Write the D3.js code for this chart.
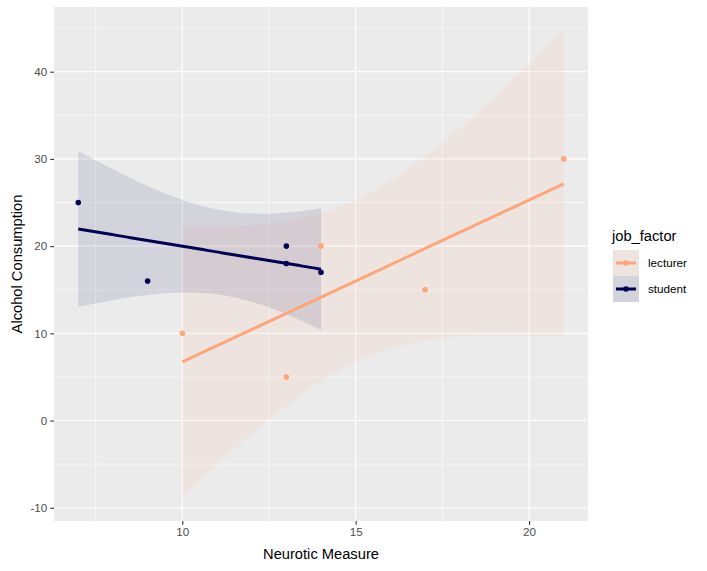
<!DOCTYPE html>
<html>
<head>
<meta charset="utf-8">
<script src="https://cdn.jsdelivr.net/npm/d3@7"></script>
<style>
  body { margin: 0; background: #fff; }
  text { font-family: "Liberation Sans", Arial, sans-serif; }
</style>
</head>
<body>
<svg id="chart" width="707" height="571"></svg>
<script>
// data
var groups = ["lecturer", "student"];
var lecturerX = [10, 13, 14, 17, 21];
var lecturerY = [10, 5, 20, 15, 30];
var studentX = [7, 9, 13, 13, 14];
var studentY = [25, 16, 20, 18, 17];
var groupColors = ["#FFA57A", "#000055"];
var xTicks = [10, 15, 20];
var yTicks = [-10, 0, 10, 20, 30, 40];

var svg = d3.select("#chart");
var margin = {top: 7, right: 119, bottom: 50, left: 54};
var width = 707 - margin.left - margin.right;
var height = 571 - margin.top - margin.bottom;

var x = d3.scaleLinear().domain([6.3, 21.7]).range([0, width]);
var y = d3.scaleLinear().domain([-11.52, 47.42]).range([height, 0]);

var g = svg.append("g").attr("transform", "translate(" + margin.left + "," + margin.top + ")");

// panel + grid
g.append("rect").attr("width", width).attr("height", height).attr("fill", "#EBEBEB");
var minorX = [7.5, 12.5, 17.5];
var minorY = [-5, 5, 15, 25, 35, 45];
g.selectAll(".mx").data(minorX).enter().append("line")
  .attr("x1", d => x(d)).attr("x2", d => x(d)).attr("y1", 0).attr("y2", height)
  .attr("stroke", "#fff").attr("stroke-width", 0.55);
g.selectAll(".my").data(minorY).enter().append("line")
  .attr("y1", d => y(d)).attr("y2", d => y(d)).attr("x1", 0).attr("x2", width)
  .attr("stroke", "#fff").attr("stroke-width", 0.55);
g.selectAll(".gx").data(xTicks).enter().append("line")
  .attr("x1", d => x(d)).attr("x2", d => x(d)).attr("y1", 0).attr("y2", height)
  .attr("stroke", "#fff").attr("stroke-width", 1.1);
g.selectAll(".gy").data(yTicks).enter().append("line")
  .attr("y1", d => y(d)).attr("y2", d => y(d)).attr("x1", 0).attr("x2", width)
  .attr("stroke", "#fff").attr("stroke-width", 1.1);

// linear fit with 95% band (like geom_smooth(method = "lm"))
function fit(xs, ys) {
  var n = xs.length;
  var mx = d3.mean(xs), my = d3.mean(ys);
  var sxx = d3.sum(xs, v => (v - mx) * (v - mx));
  var sxy = d3.sum(xs, (v, i) => (v - mx) * (ys[i] - my));
  var b = sxy / sxx, a = my - b * mx;
  var sse = d3.sum(xs, (v, i) => Math.pow(ys[i] - (a + b * v), 2));
  var s = Math.sqrt(sse / (n - 2));
  var t = 3.182446; // qt(0.975, 3)
  var ext = d3.extent(xs);
  var pts = d3.range(80).map(function (k) {
    var xv = ext[0] + (ext[1] - ext[0]) * k / 79;
    var fv = a + b * xv;
    var se = s * Math.sqrt(1 / n + (xv - mx) * (xv - mx) / sxx);
    return {x: xv, y: fv, lo: fv - t * se, hi: fv + t * se};
  });
  return pts;
}

var series = [
  {name: "lecturer", xs: lecturerX, ys: lecturerY, color: groupColors[0]},
  {name: "student", xs: studentX, ys: studentY, color: groupColors[1]}
];

var area = d3.area().x(d => x(d.x)).y0(d => y(d.lo)).y1(d => y(d.hi));
var line = d3.line().x(d => x(d.x)).y(d => y(d.y));

series.forEach(function (s) {
  s.fit = fit(s.xs, s.ys);
  g.append("path").attr("d", area(s.fit)).attr("fill", s.color).attr("fill-opacity", 0.1);
});
series.forEach(function (s) {
  g.append("path").attr("d", line(s.fit)).attr("fill", "none")
    .attr("stroke", s.color).attr("stroke-width", 3);
  g.selectAll(null).data(s.xs).enter().append("circle")
    .attr("cx", d => x(d)).attr("cy", (d, i) => y(s.ys[i]))
    .attr("r", 2.8).attr("fill", s.color);
});

// axes (plain hyphen for negatives, as in R)
var xAxis = g.append("g").attr("transform", "translate(0," + height + ")")
  .call(d3.axisBottom(x).tickValues(xTicks).tickFormat(d => String(d)).tickSize(3.7).tickPadding(3));
var yAxis = g.append("g")
  .call(d3.axisLeft(y).tickValues(yTicks).tickFormat(d => String(d)).tickSize(3.7).tickPadding(3));
[xAxis, yAxis].forEach(function (ax) {
  ax.select(".domain").remove();
  ax.selectAll(".tick line").attr("stroke", "#333").attr("stroke-width", 1.1);
  ax.selectAll(".tick text").attr("fill", "#4D4D4D").attr("font-size", "11.7px")
    .style("font-family", "Liberation Sans, Arial, sans-serif");
});

svg.append("text").attr("x", margin.left + width / 2).attr("y", 559)
  .attr("text-anchor", "middle").attr("font-size", "14.7px").attr("fill", "#000")
  .text("Neurotic Measure");
svg.append("text").attr("transform", "translate(22," + (margin.top + height / 2) + ") rotate(-90)")
  .attr("text-anchor", "middle").attr("font-size", "14.7px").attr("fill", "#000")
  .text("Alcohol Consumption");

// legend
var lg = svg.append("g").attr("transform", "translate(612,224)");
lg.append("text").attr("x", 0).attr("y", 17).attr("font-size", "14.7px").text("job_factor");
series.forEach(function (s, i) {
  var ky = 26 + i * 26;
  lg.append("rect").attr("x", 1).attr("y", ky).attr("width", 26).attr("height", 26).attr("fill", "#EBEBEB");
  lg.append("rect").attr("x", 1).attr("y", ky).attr("width", 26).attr("height", 26)
    .attr("fill", s.color).attr("fill-opacity", 0.1);
  lg.append("line").attr("x1", 4).attr("x2", 24).attr("y1", ky + 13).attr("y2", ky + 13)
    .attr("stroke", s.color).attr("stroke-width", 3);
  lg.append("circle").attr("cx", 14).attr("cy", ky + 13).attr("r", 2.8).attr("fill", s.color);
  lg.append("text").attr("x", 36).attr("y", ky + 13).attr("dy", "0.35em")
    .attr("font-size", "11.7px").attr("fill", "#000").text(s.name);
});
</script>
</body>
</html>
